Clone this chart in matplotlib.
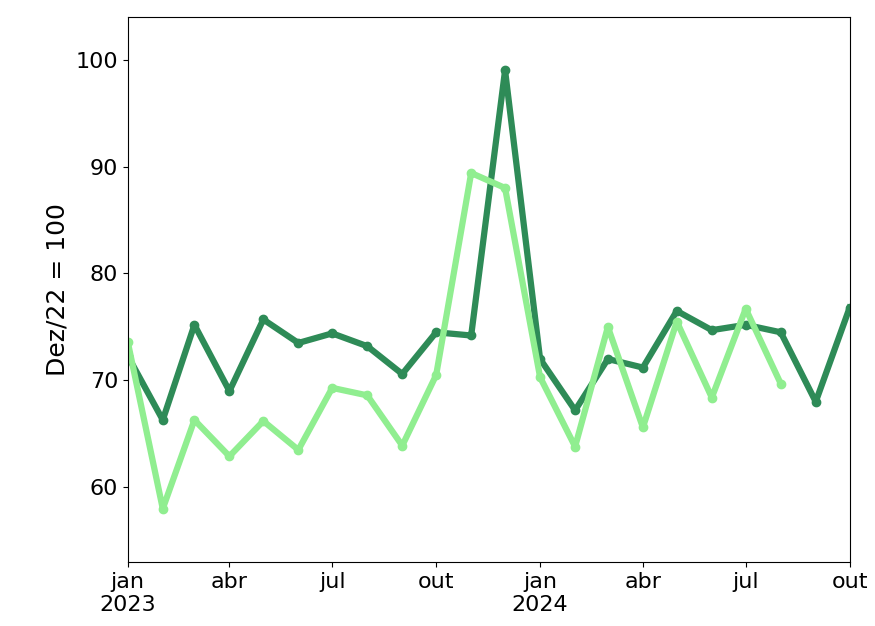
import pandas as pd
import matplotlib
matplotlib.use('Agg')
import matplotlib.pyplot as plt

months = pd.date_range('2023-01-01', '2024-10-01', freq='MS')
dark_values = [72.3, 66.3, 75.2, 69.0, 75.7, 73.5, 74.4, 73.2, 70.6, 74.5, 74.2, 99.0,
               72.0, 67.2, 72.0, 71.2, 76.5, 74.7, 75.2, 74.5, 68.0, 76.8]
light_values = [73.6, 58.0, 66.3, 62.9, 66.2, 63.5, 69.3, 68.6, 63.9, 70.5, 89.4, 88.0,
                70.3, 63.8, 75.0, 65.6, 75.5, 68.4, 76.7, 69.7]
tick_labels = ['jan\n2023', 'abr', 'jul', 'out', 'jan\n2024', 'abr', 'jul', 'out']

fig = plt.figure(figsize=(8.75, 6.26), dpi=100)
ax = fig.add_axes([0.146, 0.102, 0.825, 0.871])

ax.plot(months, dark_values, color='#2e8b57', lw=4.5, marker='o', ms=6)
ax.plot(months[:len(light_values)], light_values, color='#90ee90', lw=4.5, marker='o', ms=6)

ax.set_xlim(months[0], months[-1])
ax.set_ylim(53, 104)
ax.set_xticks(months[::3])
ax.set_xticklabels(tick_labels)
ax.set_yticks([60, 70, 80, 90, 100])
ax.tick_params(labelsize=16)
ax.set_ylabel('Dez/22 = 100', fontsize=18)

fig.savefig('out.png')
